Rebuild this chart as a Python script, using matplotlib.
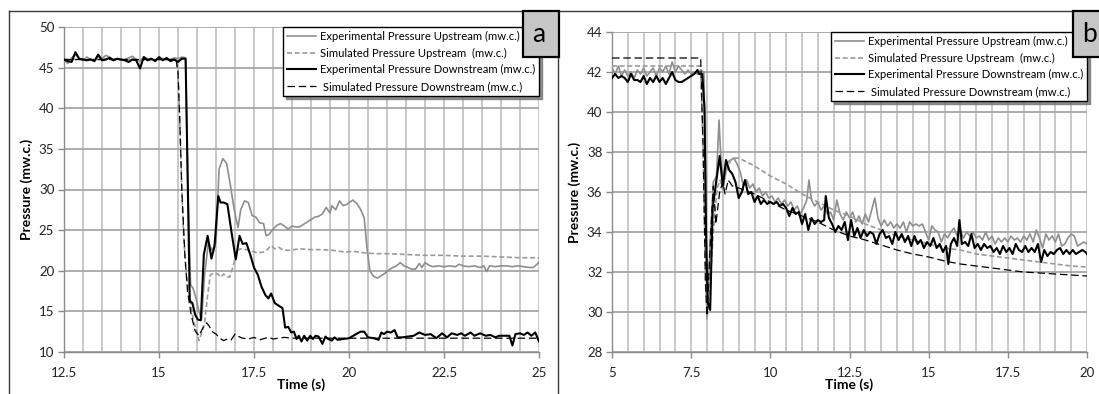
import matplotlib
matplotlib.use("Agg")
import matplotlib.pyplot as plt
from matplotlib.lines import Line2D
from matplotlib.patches import Rectangle
from matplotlib.ticker import MultipleLocator

plt.rcParams["font.family"] = ["Lato", "DejaVu Sans"]

W, H = 1099, 394

# ── panel (a) ─────────────────────────────────────────────────────────────────
a_exp_up_t = [12.5, 12.6, 12.7, 12.8, 12.9, 13.0, 13.1, 13.2, 13.3, 13.4, 13.5, 13.6, 13.7,
              13.8, 13.9, 14.0, 14.1, 14.2, 14.3, 14.4, 14.5, 14.6, 14.7, 14.8, 14.9, 15.0,
              15.1, 15.2, 15.3, 15.4, 15.5, 15.6, 15.7, 15.76, 15.83, 15.9, 15.98, 16.05,
              16.12, 16.2, 16.3, 16.4, 16.5, 16.58, 16.68, 16.78, 16.88, 16.98, 17.08, 17.15,
              17.25, 17.35, 17.45, 17.55, 17.65, 17.75, 17.82, 17.9, 18.0, 18.1, 18.2, 18.3,
              18.4, 18.5, 18.6, 18.7, 18.8, 18.9, 19.0, 19.1, 19.2, 19.3, 19.4, 19.5, 19.55,
              19.65, 19.75, 19.85, 19.95, 20.1, 20.2, 20.3, 20.4, 20.48, 20.55, 20.65, 20.75,
              20.85, 20.95, 21.05, 21.15, 21.25, 21.35, 21.45, 21.55, 21.65, 21.75, 21.85,
              21.92, 22.0, 22.1, 22.2, 22.35, 22.5, 22.65, 22.8, 22.9, 23.0, 23.15, 23.3,
              23.45, 23.55, 23.62, 23.7, 23.85, 24.0, 24.15, 24.3, 24.45, 24.6, 24.75, 24.85,
              24.95, 25.0]
a_exp_up_p = [46.0, 45.5, 46.2, 46.6, 46.1, 45.9, 46.3, 46.0, 45.8, 46.4, 46.1, 46.5, 46.3,
              46.0, 46.1, 45.9, 46.0, 46.2, 46.4, 46.0, 45.8, 46.3, 46.1, 46.0, 45.9, 46.2,
              46.1, 46.0, 46.0, 46.2, 46.1, 46.3, 46.2, 30.0, 18.3, 17.8, 16.5, 15.0,
              14.0, 19.5, 23.5, 22.5, 23.5, 32.5, 33.8, 33.2, 30.5, 27.5, 25.3, 27.5,
              28.6, 28.4, 26.8, 26.6, 25.9, 25.8, 24.3, 24.5, 25.1, 25.6, 25.8, 25.5,
              25.1, 25.5, 25.4, 25.4, 25.7, 26.0, 26.3, 26.6, 26.7, 27.0, 27.8, 27.1, 28.0,
              27.5, 28.6, 28.0, 28.2, 28.7, 28.3, 27.6, 26.5, 22.5, 20.0, 19.3, 19.1,
              19.4, 19.7, 20.1, 20.4, 20.6, 21.0, 20.6, 20.4, 20.2, 20.2, 20.9,
              20.4, 21.0, 20.7, 20.5, 20.6, 20.5, 20.6, 20.5, 20.8, 20.6, 20.5, 20.6,
              20.4, 20.6, 19.9, 20.6, 20.5, 20.6, 20.6, 20.5, 20.6, 20.5, 20.4, 20.4,
              20.8, 21.1]

a_sim_up_t = [12.5, 15.45, 15.5, 15.55, 15.6, 15.65, 15.72, 15.8, 15.9, 16.0, 16.05, 16.12,
              16.2, 16.28, 16.35, 16.45, 16.55, 16.62, 16.7, 16.78, 16.86, 16.95, 17.05,
              17.15, 17.3, 17.45, 17.6, 17.75, 17.85, 17.95, 18.05, 18.15, 18.25, 18.4,
              18.55, 18.7, 19.0, 19.3, 19.6, 19.9, 20.1, 20.4, 20.7, 21.0, 21.5, 22.0, 22.5,
              23.0, 23.5, 24.0, 24.5, 25.0]
a_sim_up_p = [46.0, 46.0, 44.5, 38.0, 30.0, 24.0, 19.5, 17.0, 14.0, 12.3, 11.4, 12.3,
              13.6, 17.0, 19.5, 19.7, 19.6, 19.2, 19.6, 19.3, 19.2, 20.5, 22.5,
              22.7, 22.6, 22.4, 22.2, 22.3, 22.6, 23.1, 22.7, 22.9, 22.6, 22.5,
              22.6, 22.7, 22.6, 22.6, 22.5, 22.3, 22.4, 22.2, 22.1, 22.1, 22.0, 21.9, 21.9,
              21.8, 21.8, 21.7, 21.6, 21.6]

a_exp_dn_t = [12.5, 12.6, 12.7, 12.8, 12.9, 13.0, 13.1, 13.2, 13.3, 13.4, 13.5, 13.6, 13.7,
              13.8, 13.9, 14.0, 14.1, 14.2, 14.3, 14.4, 14.5, 14.6, 14.7, 14.8, 14.9, 15.0,
              15.1, 15.2, 15.3, 15.4, 15.5, 15.6, 15.7, 15.76, 15.81, 15.88, 15.95, 16.02,
              16.1, 16.18, 16.28, 16.38, 16.46, 16.56, 16.62, 16.7, 16.8, 16.9, 17.02, 17.12,
              17.2, 17.3, 17.4, 17.5, 17.6, 17.7, 17.8, 17.88, 17.95, 18.05, 18.15, 18.25,
              18.32, 18.4, 18.48, 18.55, 18.62, 18.68, 18.75, 18.82, 18.9, 18.98, 19.05,
              19.12, 19.2, 19.3, 19.38, 19.45, 19.55, 19.62, 19.7, 19.85, 20.0, 20.15, 20.3,
              20.4, 20.5, 20.65, 20.78, 20.85, 20.92, 21.0, 21.1, 21.2, 21.28, 21.4, 21.55,
              21.7, 21.85, 22.0, 22.15, 22.3, 22.45, 22.58, 22.7, 22.85, 22.95, 23.05, 23.2,
              23.3, 23.45, 23.6, 23.72, 23.85, 23.95, 24.05, 24.15, 24.22, 24.3, 24.38, 24.5,
              24.6, 24.7, 24.8, 24.9, 25.0]
a_exp_dn_p = [46.0, 45.8, 45.7, 46.9, 46.1, 46.0, 45.9, 46.0, 45.8, 46.6, 45.9, 46.0, 46.2,
              45.9, 46.1, 46.0, 45.9, 45.7, 46.0, 45.9, 44.9, 46.3, 45.9, 46.1, 45.8, 46.3,
              45.9, 46.2, 45.8, 46.0, 45.7, 46.1, 46.1, 30.0, 16.3, 16.0, 14.6, 14.0,
              13.9, 22.0, 24.3, 21.5, 23.0, 29.2, 28.4, 28.4, 28.2, 25.0, 21.4, 24.3,
              23.3, 23.4, 22.0, 20.4, 19.5, 18.0, 17.0, 16.6, 17.2, 16.0, 15.7, 15.4,
              13.0, 13.1, 12.4, 12.5, 11.6, 12.0, 11.3, 12.0, 11.4, 12.0, 11.6,
              12.0, 11.9, 11.0, 11.9, 11.6, 11.4, 11.8, 11.5, 11.6, 11.7, 12.1, 12.5,
              12.5, 11.8, 11.7, 11.5, 12.4, 12.2, 12.5, 12.4, 12.7, 11.8, 11.8, 11.9,
              12.0, 12.4, 12.1, 12.2, 11.7, 12.3, 11.8, 12.3, 12.1, 12.3, 12.0, 12.4,
              12.0, 12.3, 12.0, 12.1, 11.8, 12.0, 12.0, 12.0, 12.0, 10.8, 12.2, 12.3,
              12.1, 12.4, 12.0, 12.4, 11.3]

a_sim_dn_t = [12.5, 15.45, 15.5, 15.55, 15.6, 15.68, 15.75, 15.85, 15.95, 16.05, 16.15,
              16.25, 16.32, 16.4, 16.5, 16.6, 16.7, 16.8, 16.9, 17.0, 17.1, 17.2, 17.35,
              17.5, 17.65, 17.8, 17.9, 18.0, 18.15, 18.3, 18.5, 25.0]
a_sim_dn_p = [46.0, 46.0, 44.5, 38.0, 30.0, 22.0, 17.5, 14.5, 12.6, 12.0, 12.9,
              13.6, 13.2, 12.5, 12.2, 11.7, 11.4, 11.6, 11.5, 12.2, 11.9, 11.7, 11.6,
              11.8, 11.5, 11.7, 11.8, 11.6, 11.7, 11.8, 11.7, 11.7]

# ── panel (b) ─────────────────────────────────────────────────────────────────
b_exp_up_t = [5.0, 5.1, 5.2, 5.3, 5.4, 5.5, 5.6, 5.7, 5.8, 5.9, 6.0, 6.1, 6.2, 6.3, 6.4, 6.5,
              6.6, 6.7, 6.8, 6.9, 7.0, 7.1, 7.2, 7.3, 7.4, 7.5, 7.6, 7.7, 7.8, 7.9, 7.95, 8.0,
              8.1, 8.2, 8.3, 8.38, 8.45, 8.55, 8.65, 8.75, 8.85, 8.95, 9.05, 9.15, 9.25,
              9.35, 9.45, 9.55, 9.65, 9.75, 9.85, 9.95, 10.05, 10.15, 10.25, 10.35, 10.45,
              10.55, 10.65, 10.75, 10.85, 10.95, 11.05, 11.15, 11.22, 11.3, 11.4, 11.5,
              11.6, 11.7, 11.8, 11.9, 12.0, 12.1, 12.2, 12.3, 12.4, 12.5, 12.6, 12.7, 12.8,
              12.9, 13.0, 13.1, 13.2, 13.3, 13.4, 13.5, 13.6, 13.7, 13.8, 13.9, 14.0, 14.1,
              14.2, 14.3, 14.4, 14.5, 14.6, 14.7, 14.8, 14.9, 15.0, 15.1, 15.2, 15.3, 15.4,
              15.5, 15.6, 15.7, 15.8, 15.9, 16.0, 16.1, 16.2, 16.3, 16.4, 16.5, 16.6, 16.7,
              16.8, 16.9, 17.0, 17.1, 17.2, 17.3, 17.4, 17.5, 17.6, 17.7, 17.8, 17.9, 18.0,
              18.1, 18.2, 18.3, 18.4, 18.5, 18.6, 18.7, 18.8, 18.9, 19.0, 19.1, 19.2, 19.3,
              19.4, 19.5, 19.6, 19.7, 19.8, 19.9, 20.0]
b_exp_up_p = [42.2, 41.9, 42.3, 41.8, 42.1, 41.8, 42.0, 41.7, 42.1, 41.9, 42.2, 41.8, 42.0,
              42.2, 41.8, 42.2, 42.0, 42.3, 41.9, 42.5, 42.0, 42.3, 42.1, 41.9, 42.1, 41.9,
              42.0, 41.9, 42.1, 42.0, 38.0, 29.7,
              33.5, 36.5, 36.8, 39.6, 37.3, 36.6, 37.5, 37.6, 37.7, 37.4, 37.0, 36.3, 36.6,
              36.2, 36.4, 36.0, 36.2, 35.8, 36.0, 35.7, 35.8, 35.5, 35.7, 35.4, 35.6,
              35.3, 35.5, 35.1, 35.3, 34.9, 35.2, 35.6, 36.6, 35.6, 35.3, 35.5,
              35.1, 35.3, 34.9, 35.0, 34.6, 35.6, 34.9, 34.6, 35.0, 34.7, 35.0, 34.5, 34.8,
              34.4, 34.9, 34.5, 35.1, 35.7, 34.7, 34.3, 34.6, 34.3, 34.5, 34.2, 34.4, 34.2,
              34.5, 34.0, 34.5, 34.3, 34.4, 34.3, 34.4, 34.0, 33.6, 34.3, 34.1, 34.0, 33.5,
              33.9, 33.7, 34.0, 34.2, 33.8, 34.1, 33.7, 34.0, 33.8, 34.0, 33.7, 33.8, 33.6,
              34.0, 33.6, 33.8, 33.4, 33.7, 33.5, 33.7, 33.5, 33.8, 33.6, 33.7, 33.5, 33.8,
              33.6, 33.9, 33.5, 34.1, 33.7, 33.2, 33.9, 33.6, 33.8, 33.5, 33.9, 33.3, 33.4,
              33.7, 33.9, 33.8, 33.3, 33.4, 33.5, 33.4]

b_sim_up_t = [5.0, 7.8, 7.88, 7.95, 8.0, 8.1, 8.2, 8.32, 8.42, 8.5, 8.6, 8.75, 8.9, 9.0,
              9.5, 10.0, 10.5, 11.0, 11.5, 12.0, 12.5, 13.0, 13.5, 14.0, 14.5, 15.0, 15.5,
              16.0, 16.5, 17.0, 17.5, 18.0, 18.5, 19.0, 19.5, 20.0]
b_sim_up_p = [42.3, 42.3, 38.0, 32.0, 29.6, 31.5, 34.0, 36.2, 36.6, 36.1, 37.0, 37.6, 37.7,
              37.7, 37.3, 36.8, 36.4, 35.9, 35.5, 35.1, 34.8, 34.4, 34.1, 33.8, 33.6, 33.4,
              33.2, 33.1, 32.9, 32.8, 32.7, 32.6, 32.5, 32.4, 32.3, 32.25]

b_exp_dn_t = [5.0, 5.1, 5.2, 5.3, 5.4, 5.5, 5.6, 5.7, 5.8, 5.9, 6.0, 6.1, 6.2, 6.3, 6.4, 6.5,
              6.6, 6.7, 6.8, 6.9, 7.0, 7.1, 7.2, 7.3, 7.4, 7.5, 7.6, 7.7, 7.75, 7.85, 7.92,
              7.97, 8.02, 8.1, 8.18, 8.28, 8.4, 8.5, 8.6, 8.7, 8.8, 8.9, 9.0, 9.1, 9.2, 9.3,
              9.4, 9.5, 9.6, 9.7, 9.8, 9.9, 10.0, 10.1, 10.2, 10.3, 10.4, 10.5, 10.6, 10.7,
              10.8, 10.9, 11.0, 11.1, 11.2, 11.3, 11.4, 11.5, 11.6, 11.7, 11.75, 11.85,
              11.95, 12.05, 12.15, 12.25, 12.35, 12.45, 12.55, 12.65, 12.75, 12.85, 12.95,
              13.05, 13.15, 13.25, 13.35, 13.45, 13.55, 13.65, 13.75, 13.85, 13.95, 14.05,
              14.15, 14.25, 14.35, 14.45, 14.55, 14.65, 14.75, 14.85, 14.95, 15.05, 15.15,
              15.25, 15.35, 15.45, 15.55, 15.62, 15.7, 15.8, 15.9, 15.97, 16.05, 16.15,
              16.25, 16.35, 16.45, 16.55, 16.65, 16.75, 16.85, 16.95, 17.05, 17.15, 17.25,
              17.35, 17.45, 17.55, 17.65, 17.75, 17.85, 17.95, 18.05, 18.15, 18.25, 18.35,
              18.45, 18.55, 18.65, 18.75, 18.85, 18.95, 19.05, 19.15, 19.25, 19.35, 19.45,
              19.55, 19.65, 19.75, 19.85, 19.95, 20.0]
b_exp_dn_p = [41.7, 41.9, 41.7, 41.8, 41.7, 41.5, 41.9, 41.6, 41.6, 41.5, 41.8, 41.4, 41.7,
              41.5, 41.8, 41.5, 41.7, 41.4, 41.7, 42.0, 41.6, 41.5, 41.5, 41.6, 41.7, 41.8,
              41.9, 42.1, 41.9, 41.9, 40.2, 34.0, 30.5, 30.1, 35.2, 36.4, 37.8, 36.3, 37.6,
              37.1, 36.9, 36.5, 35.7, 36.0, 36.6, 35.9, 36.0, 35.5, 35.8, 35.4, 35.6, 35.4,
              35.5, 35.4, 35.5, 35.3, 35.4, 35.2, 34.8, 35.2, 34.9, 35.0, 34.4, 34.9, 34.1,
              34.7, 34.4, 34.6, 34.5, 34.6, 35.8, 34.7, 34.4, 34.0, 34.3, 34.1, 34.5, 33.6,
              34.6, 33.8, 34.2, 33.7, 34.1, 33.8, 34.0, 33.9, 33.4, 33.9, 34.1, 33.7, 33.8,
              33.4, 34.0, 33.6, 33.9, 33.5, 33.8, 33.3, 33.8, 33.4, 33.6, 33.2, 33.5, 33.3,
              33.7, 33.2, 33.4, 33.0, 33.3, 32.4, 33.4, 33.7, 33.3, 34.6, 33.4, 33.5, 33.3,
              33.9, 33.2, 33.4, 33.1, 33.4, 33.2, 33.3, 33.0, 33.2, 32.9, 33.3, 33.0, 33.2,
              32.9, 33.4, 33.1, 33.0, 33.3, 33.0, 33.2, 33.0, 33.4, 32.5, 33.1, 32.8, 33.0,
              32.9, 33.1, 33.2, 32.9, 33.1, 32.9, 33.1, 32.9, 33.0, 33.1, 33.0, 32.9]

b_sim_dn_t = [5.0, 7.8, 7.88, 7.95, 8.0, 8.12, 8.2, 8.28, 8.4, 8.5, 8.57, 8.67, 8.8, 9.0,
              9.5, 10.0, 10.5, 11.0, 11.5, 12.0, 12.5, 13.0, 13.5, 14.0, 14.5, 15.0, 15.5,
              16.0, 16.5, 17.0, 17.5, 18.0, 18.5, 19.0, 19.5, 20.0]
b_sim_dn_p = [42.7, 42.7, 38.0, 31.5, 29.8, 34.0, 36.3, 34.4, 36.0, 36.5, 35.9, 36.6, 36.3,
              36.2, 35.9, 35.5, 35.1, 34.8, 34.5, 34.1, 33.8, 33.6, 33.35, 33.1, 32.9, 32.75,
              32.55, 32.4, 32.3, 32.2, 32.1, 32.0, 31.95, 31.9, 31.85, 31.8]

labels = ["Experimental Pressure Upstream (mw.c.)",
          "Simulated Pressure Upstream  (mw.c.)",
          "Experimental Pressure Downstream (mw.c.)",
          " Simulated Pressure Downstream (mw.c.)"]

GRID_H = "#a6a6a6"
GRID_V = "#c4c4c4"
AXIS = "#8a8a8a"


def px_box(left, top, right, bottom):
    return [left / W, 1 - bottom / H, (right - left) / W, (bottom - top) / H]


def draw_panel(ax, series, xlim, ylim, xmajor, ymajor):
    (eu_t, eu_p), (su_t, su_p), (ed_t, ed_p), (sd_t, sd_p) = series
    ax.plot(eu_t, eu_p, color="#8e8e8e", lw=1.2, zorder=3)
    ax.plot(su_t, su_p, color="#9a9a9a", lw=1.2, ls=(0, (3, 1.6)), zorder=3)
    ax.plot(ed_t, ed_p, color="black", lw=1.5, zorder=4)
    ax.plot(sd_t, sd_p, color="black", lw=0.9, ls=(0, (6, 3)), zorder=4)

    ax.set_xlim(*xlim)
    ax.set_ylim(*ylim)
    ax.xaxis.set_major_locator(MultipleLocator(xmajor))
    ax.xaxis.set_minor_locator(MultipleLocator(0.5))
    ax.yaxis.set_major_locator(MultipleLocator(ymajor))
    ax.xaxis.set_major_formatter(plt.FuncFormatter(lambda v, _: f"{v:g}"))

    ax.grid(True, which="both", axis="x", color=GRID_V, lw=1.3)
    ax.grid(True, which="major", axis="y", color=GRID_H, lw=1.3)
    ax.set_axisbelow(True)
    for side in ("top", "right"):
        ax.spines[side].set_visible(False)
    for side in ("left", "bottom"):
        ax.spines[side].set_color(AXIS)
        ax.spines[side].set_linewidth(1.0)
    ax.tick_params(which="major", direction="out", length=4, width=1, color=AXIS,
                   labelsize=9.5, labelcolor="#222222")
    ax.tick_params(axis="x", which="major", pad=7)
    ax.tick_params(axis="y", which="major", pad=3)
    ax.tick_params(which="minor", length=0)

    ax.set_xlabel("Time (s)", fontsize=10, fontweight="bold", labelpad=-1)
    ax.set_ylabel("Pressure (mw.c.)", fontsize=10, fontweight="bold", labelpad=4)

    handles = [Line2D([], [], color="#8e8e8e", lw=1.2),
               Line2D([], [], color="#9a9a9a", lw=1.2, ls=(0, (3, 1.6))),
               Line2D([], [], color="black", lw=1.5),
               Line2D([], [], color="black", lw=0.9, ls=(0, (6, 3)))]
    leg = ax.legend(handles, labels, loc="upper right", bbox_to_anchor=(1.0, 1.0),
                    fontsize=8.1, frameon=True, fancybox=False, edgecolor="black",
                    framealpha=1, handlelength=2.6, handletextpad=0.3, labelspacing=0.5,
                    borderpad=0.35, borderaxespad=0.0,
                    shadow={"color": "0.45", "alpha": 0.8})
    leg.get_frame().set_linewidth(1.0)
    leg.set_zorder(10)


fig = plt.figure(figsize=(W / 100, H / 100), dpi=100)

ax_a = fig.add_axes(px_box(64, 27, 539, 352))
draw_panel(ax_a,
           [(a_exp_up_t, a_exp_up_p), (a_sim_up_t, a_sim_up_p),
            (a_exp_dn_t, a_exp_dn_p), (a_sim_dn_t, a_sim_dn_p)],
           (12.5, 25), (10, 50), 2.5, 5)

ax_b = fig.add_axes(px_box(612, 32, 1087, 352))
draw_panel(ax_b,
           [(b_exp_up_t, b_exp_up_p), (b_sim_up_t, b_sim_up_p),
            (b_exp_dn_t, b_exp_dn_p), (b_sim_dn_t, b_sim_dn_p)],
           (5, 20), (28, 44), 2.5, 2)


def fig_line(xs, ys, **kw):
    fig.add_artist(Line2D([x / W for x in xs], [1 - y / H for y in ys],
                          transform=fig.transFigure, **kw))


# chart frames around both panels
frame = dict(color="#3a3a3a", lw=1.0)
fig_line([9, 9], [11, H + 2], **frame)
fig_line([9, 1073], [11, 11], **frame)
fig_line([558, 558], [11, H + 2], **frame)

# panel tags
for x0, x1, tag in [(523, 559, "a"), (1073, 1109, "b")]:
    fig.add_artist(Rectangle((x0 / W, 1 - 57 / H), (x1 - x0) / W, 46 / H,
                             transform=fig.transFigure, facecolor="#c6c6c6",
                             edgecolor="black", lw=1.6, zorder=20))
    fig.text((x0 + 16) / W, 1 - 35 / H, tag, fontsize=19, ha="center", va="center",
             color="black", zorder=21)

fig.savefig("out.png", dpi=100)
